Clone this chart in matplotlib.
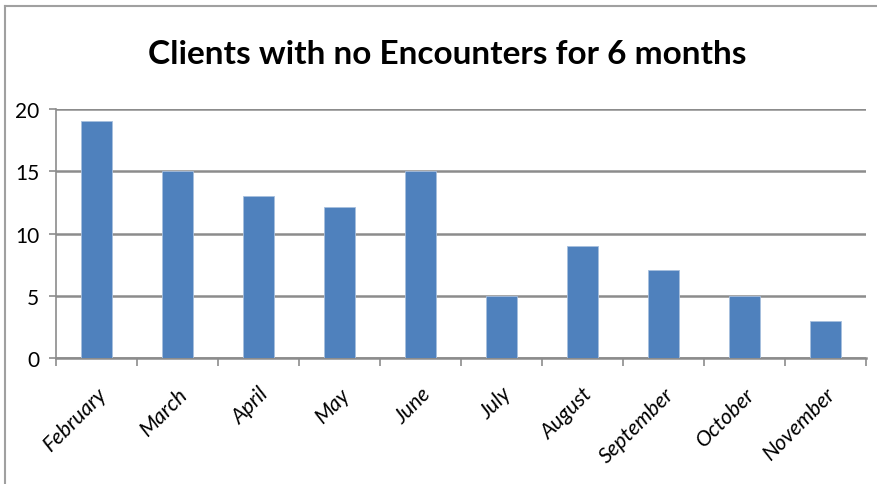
import matplotlib
matplotlib.use('Agg')
import matplotlib.pyplot as plt
from matplotlib.lines import Line2D
import numpy as np

MONTHS = ['February', 'March', 'April', 'May', 'June',
          'July', 'August', 'September', 'October', 'November']
CLIENTS = [19, 15, 13, 12.1, 15, 5, 9, 7.1, 5, 3]
Y_TICKS = [0, 5, 10, 15, 20]
TITLE = 'Clients with no Encounters for 6 months'

BAR_COLOR  = '#4F81BD'
GRID_COLOR = '#8C8C8C'

plt.rcParams['font.family'] = ['Lato', 'DejaVu Sans']

fig = plt.figure(figsize=(8.78, 4.85), dpi=100)
ax = fig.add_axes([56/878, 1 - 359.3/485, (866 - 56)/878, (359.3 - 110)/485])

x = np.arange(len(MONTHS))
ax.bar(x, CLIENTS, width=0.38, color=BAR_COLOR, edgecolor='#A7BFDE',
       linewidth=0.6, zorder=3)

ax.set_xlim(-0.5, len(MONTHS) - 0.5)
ax.set_ylim(0, 20)
ax.set_yticks(Y_TICKS)
ax.set_yticklabels([str(t) for t in Y_TICKS], fontsize=15)
ax.yaxis.grid(True, color=GRID_COLOR, linewidth=1.8, zorder=0)
ax.tick_params(axis='y', length=5, color=GRID_COLOR, width=1.2, pad=7)

# category boundary ticks on the x axis
ax.set_xticks(np.arange(len(MONTHS) + 1) - 0.5)
ax.set_xticklabels([])
ax.tick_params(axis='x', length=6, color=GRID_COLOR, width=1.2)
ax.set_xticks(x, minor=True)
ax.set_xticklabels(MONTHS, minor=True, rotation=45, ha='right',
                   rotation_mode='anchor', fontsize=15.5, style='italic')
ax.tick_params(axis='x', which='minor', length=0, pad=18)

for s in ['top', 'right']:
    ax.spines[s].set_visible(False)
ax.spines['left'].set_color(GRID_COLOR)
ax.spines['left'].set_linewidth(1.2)
ax.spines['bottom'].set_color(GRID_COLOR)
ax.spines['bottom'].set_linewidth(1.8)

fig.text(447/878, 1 - 55/485, TITLE, ha='center', va='center',
         fontsize=24, fontweight='bold')

# outer chart border (left and top)
fig.add_artist(Line2D([5/878, 5/878], [0, 1 - 7/485], color='#A0A0A0',
                      linewidth=1.5, transform=fig.transFigure))
fig.add_artist(Line2D([5/878, 1], [1 - 7/485, 1 - 7/485], color='#A0A0A0',
                      linewidth=1.5, transform=fig.transFigure))

fig.savefig('out.png', dpi=100)
